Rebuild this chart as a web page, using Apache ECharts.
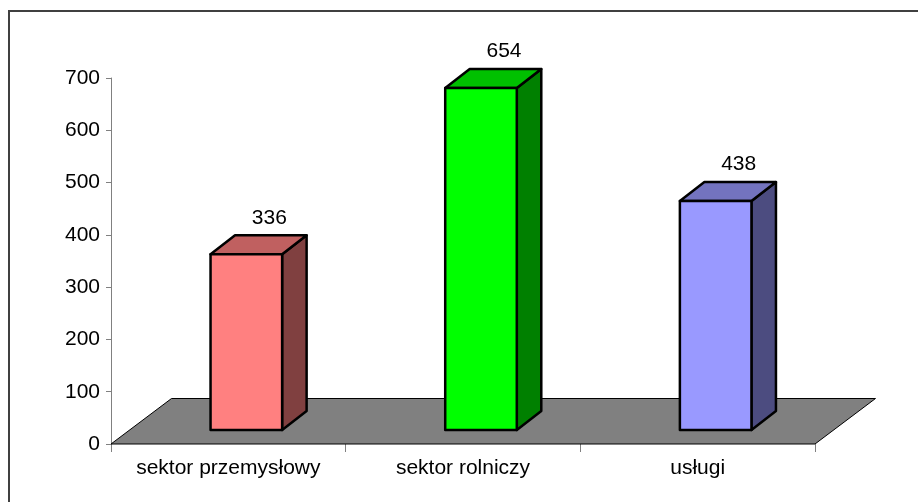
<!DOCTYPE html>
<html>
<head>
<meta charset="utf-8">
<script src="https://cdn.jsdelivr.net/npm/echarts@6/dist/echarts.min.js"></script>
<style>
html,body{margin:0;padding:0;background:#fff;}
#chart{width:918px;height:502px;}
</style>
</head>
<body>
<div id="chart"></div>
<script>
var categories = ['sektor przemysłowy', 'sektor rolniczy', 'usługi'];
var values = [336, 654, 438];
var frontColors = ['#FF8080', '#00FF00', '#9999FF'];
var topColors = ['#C06060', '#00C000', '#7373BF'];
var sideColors = ['#804040', '#008000', '#4C4C80'];
var yTicks = [0, 100, 200, 300, 400, 500, 600, 700];

var FONT = '"Liberation Sans", Arial, sans-serif';
var FS = 21;
var DEPTH = [60.5, -45.5];
var FRONT_OFF = [18, -14];
var SIDE = [24.5, -19];
var BAR_FRAC = 0.305;

var chart = echarts.init(document.getElementById('chart'), null, {renderer: 'canvas'});

function renderFloor(params, api) {
  var bw = api.size([1, 0])[0];
  var p0 = api.coord([0, 0]);
  var pN = api.coord([categories.length - 1, 0]);
  var xl = p0[0] - bw / 2, xr = pN[0] + bw / 2, y = p0[1];
  return {
    type: 'polygon',
    shape: {points: [[xl, y], [xr, y], [xr + DEPTH[0], y + DEPTH[1]], [xl + DEPTH[0], y + DEPTH[1]]]},
    style: {fill: '#808080', stroke: '#000', lineWidth: 1}
  };
}

function renderBar(params, api) {
  var idx = api.value(0);
  var val = api.value(1);
  var base = api.coord([idx, 0]);
  var top = api.coord([idx, val]);
  var bw = api.size([1, 0])[0];
  var w = bw * BAR_FRAC;
  var cx = base[0] + FRONT_OFF[0];
  var x0 = cx - w / 2, x1 = cx + w / 2;
  var yb = base[1] + FRONT_OFF[1];
  var yt = top[1] + FRONT_OFF[1];
  var h = yb - yt;
  var sx = SIDE[0], sy = SIDE[1];
  var i = params.dataIndex;
  var st = {stroke: '#000', lineWidth: 2.5, lineJoin: 'round'};
  return {
    type: 'group',
    children: [
      {type: 'polygon', shape: {points: [[x1, yt], [x1 + sx, yt + sy], [x1 + sx, yb + sy], [x1, yb]]},
        style: Object.assign({fill: sideColors[i]}, st)},
      {type: 'polygon', shape: {points: [[x0, yt], [x1, yt], [x1 + sx, yt + sy], [x0 + sx, yt + sy]]},
        style: Object.assign({fill: topColors[i]}, st)},
      {type: 'rect', shape: {x: x0, y: yt, width: w, height: h},
        style: Object.assign({fill: frontColors[i]}, st)},
      {type: 'text', x: cx + 23, y: yt + sy - 17.5,
        style: {text: String(val), fill: '#000', font: FS + 'px ' + FONT, align: 'center', verticalAlign: 'middle'}}
    ]
  };
}

var option = {
  animation: false,
  backgroundColor: '#fff',
  graphic: [{
    type: 'rect', z: 0, silent: true,
    shape: {x: 9, y: 11, width: 1000, height: 1000},
    style: {fill: 'none', stroke: '#404040', lineWidth: 2}
  }],
  grid: {left: 111, right: 103, top: 78, bottom: 58, containLabel: false},
  xAxis: {
    type: 'category',
    data: categories,
    boundaryGap: true,
    axisLine: {show: false},
    axisTick: {show: true, interval: 0, length: 8, lineStyle: {color: '#808080', width: 1}},
    axisLabel: {color: '#000', fontSize: FS, fontFamily: FONT, margin: 14, interval: 0, hideOverlap: false},
    splitLine: {show: false}
  },
  yAxis: {
    type: 'value',
    min: yTicks[0],
    max: yTicks[yTicks.length - 1],
    interval: yTicks[1] - yTicks[0],
    axisLine: {show: true, lineStyle: {color: '#808080', width: 1}},
    axisTick: {show: true, length: 5, lineStyle: {color: '#808080'}},
    axisLabel: {color: '#000', fontSize: FS, fontFamily: FONT, margin: 11},
    splitLine: {show: false}
  },
  series: [
    {type: 'custom', z: 1, renderItem: renderFloor, data: [[0, 0]], silent: true},
    {type: 'custom', z: 2, renderItem: renderBar,
      data: values.map(function (v, i) { return [i, v]; })}
  ]
};
chart.setOption(option);
</script>
</body>
</html>
